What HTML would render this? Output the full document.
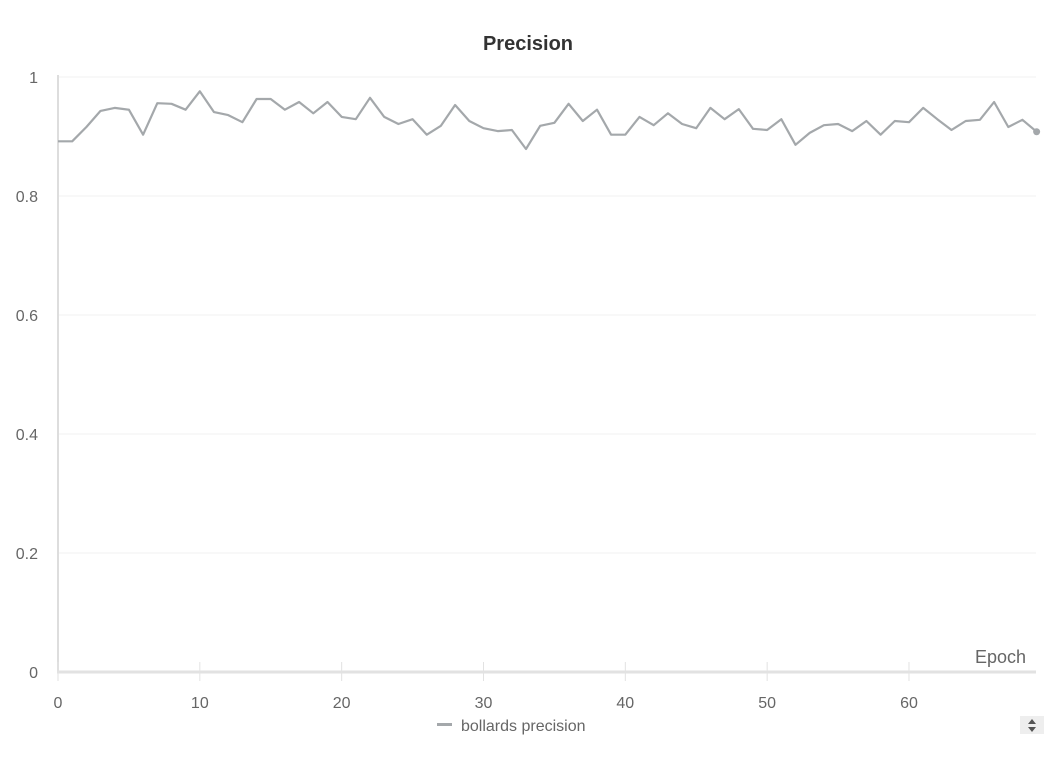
<!DOCTYPE html>
<html><head><meta charset="utf-8"><style>
body{margin:0;background:#fff;font-family:"Liberation Sans",sans-serif;}
svg text{font-family:"Liberation Sans",sans-serif;}
</style></head><body>
<svg id="chart" width="1051" height="765">
<text x="528" y="50" text-anchor="middle" font-size="20" font-weight="bold" fill="#333">Precision</text>
<g id="grid"></g><g id="axes"></g><g id="series"></g>
<text x="1026" y="663" text-anchor="end" font-size="18" fill="#666">Epoch</text>
<g>
<rect x="437" y="723" width="15" height="3" fill="#a4a8ab"></rect>
<text x="461" y="731" font-size="16" fill="#666">bollards precision</text>
</g>
<g>
<rect x="1020" y="716" width="24" height="18" fill="#eee"></rect>
<path d="M1028 724 l4 -5 l4 5z M1028 727 l4 5 l4 -5z" fill="#555"></path>
</g>
</svg>
<script>
const epochs=[];for(let i=0;i<70;i++)epochs.push(i);
const precision=[0.892,0.892,0.916,0.943,0.948,0.945,0.903,0.956,0.955,0.945,0.976,0.941,0.936,0.924,0.963,0.963,0.945,0.958,0.939,0.958,0.933,0.929,0.965,0.933,0.921,0.929,0.903,0.918,0.953,0.926,0.914,0.909,0.911,0.879,0.918,0.923,0.955,0.926,0.945,0.903,0.903,0.933,0.919,0.939,0.921,0.914,0.948,0.929,0.946,0.913,0.911,0.929,0.886,0.906,0.919,0.921,0.909,0.926,0.903,0.926,0.924,0.948,0.929,0.911,0.926,0.928,0.958,0.916,0.928,0.908];
const yTicks=[0,0.2,0.4,0.6,0.8,1];
const yLabels=["0","0.2","0.4","0.6","0.8","1"];
const xTicks=[0,10,20,30,40,50,60];
const NS="http://www.w3.org/2000/svg";
const X=v=>58+v*14.183, Y=v=>672-v*595;
function mk(t,a,p){const e=document.createElementNS(NS,t);for(const k in a)e.setAttribute(k,a[k]);p.appendChild(e);return e;}
const grid=document.getElementById('grid'),axes=document.getElementById('axes'),ser=document.getElementById('series');
yTicks.forEach((t,i)=>{
 if(t>0){const l=mk('line',{x1:58,x2:1036,y1:Y(t),y2:Y(t),stroke:'#f0f0f0'},grid);
 
 }
 const tx=mk('text',{x:38,y:Y(t)+6,'text-anchor':'end','font-size':16,fill:'#666'},axes);tx.textContent=yLabels[i];
 
 
});
const ya=mk('line',{x1:58,x2:58,y1:75,y2:673,stroke:'#ddd','stroke-width':2},axes);


const xa=mk('line',{x1:57,x2:1036,y1:672,y2:672,stroke:'#e2e2e2','stroke-width':3},axes);


xTicks.forEach(t=>{
 const l=mk('line',{x1:X(t),x2:X(t),y1:662,y2:681,stroke:'#e2e2e2'},axes);
 
 
 const tx=mk('text',{x:X(t),y:708,'text-anchor':'middle','font-size':16,fill:'#666'},axes);tx.textContent=t;
 
 
});
const pts=epochs.map((e,i)=>X(e).toFixed(1)+','+Y(precision[i]).toFixed(1)).join(' ');
const pl=mk('polyline',{points:pts,fill:'none',stroke:'#a4a8ab','stroke-width':2.2,'stroke-linejoin':'round'},ser);


const n=epochs.length-1;
const dot=mk('circle',{cx:X(epochs[n]),cy:Y(precision[n]),r:3.5,fill:'#a4a8ab'},ser);


</script>
</body></html>
